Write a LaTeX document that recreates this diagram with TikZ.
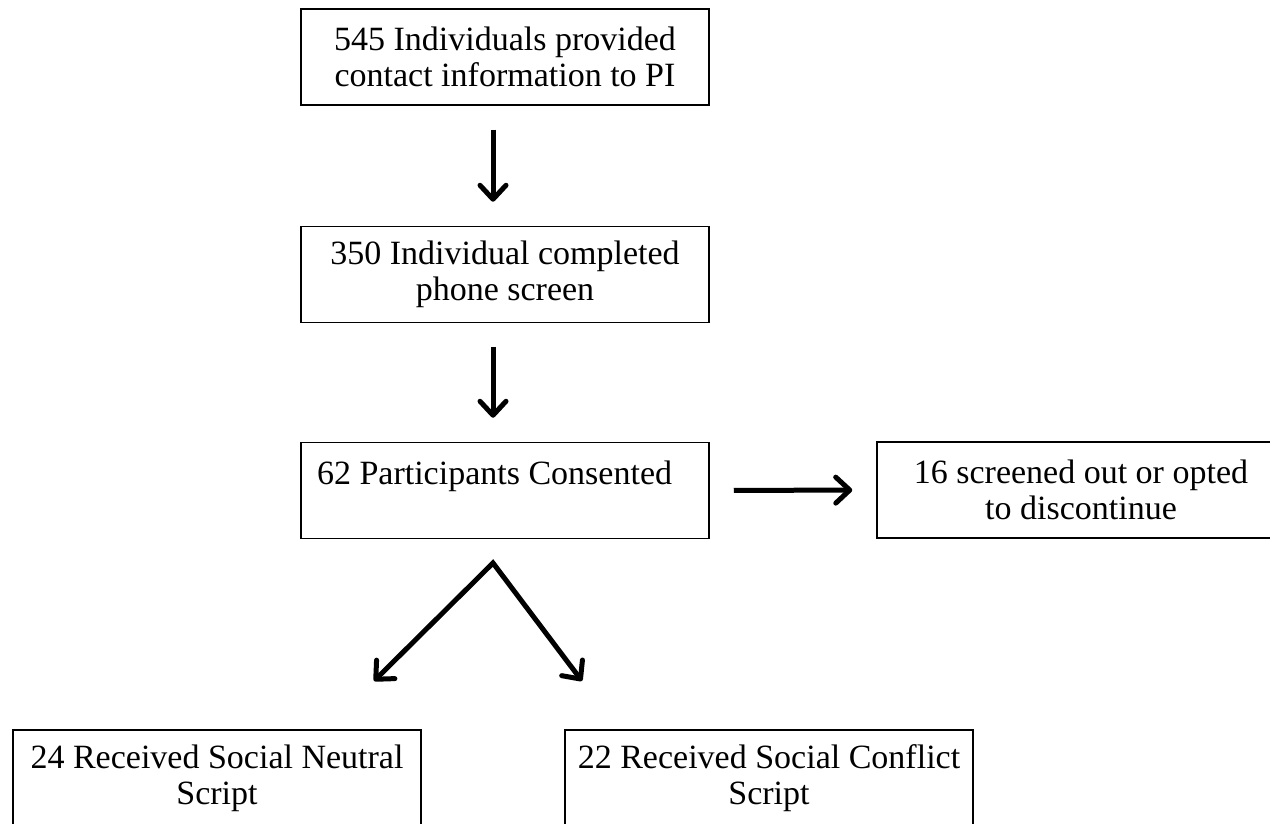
\documentclass[tikz,border=0pt]{standalone}
\usepackage{fontspec}
\setmainfont{Liberation Serif}
\usepackage{tikz}
\usetikzlibrary{arrows.meta,calc}
\tikzstyle{flowbox} = [
    draw=black,
    line width=0.75pt,
    rectangle,
    text width=198pt,
    inner xsep=3pt,
    minimum height=48pt,
    align=flush center,
    font=\fontsize{17}{18}\selectfont
    ]
\tikzstyle{flowarrow} = [
    line width=2.5pt,
    ->,
    shorten <=12pt,
    shorten >=12pt
    ]

\begin{document}
\begin{tikzpicture}[x=0.5pt,y=-0.5pt,>={Straight Barb[length=7pt,width=13pt,line width'=2.5pt,round]}]
\clip (0,0) rectangle (1270,824);
% boxes
\node [flowbox] (contact) at (505,57) {545 Individuals provided\\contact information to PI};
\node [flowbox] (phone) at (505,274.5) {350 Individual completed\\phone screen};
\node [flowbox, align=flush left] (consented) at (505,490.5) {\hspace*{5pt}62 Participants Consented\\~};
\node [flowbox] (dropped) at (1081,490) {16 screened out or opted\\to discontinue};
\node [flowbox] (neutral) at (217,778) {24 Received Social Neutral\\Script};
\node [flowbox] (conflict) at (769,778) {22 Received Social Conflict\\Script};
% split point and arrow ends
\coordinate (split) at (493,563);
\coordinate (toneutral) at (374,681);
\coordinate (toconflict) at (582,681);
% arrows
\draw [flowarrow] (contact.south -| split) -- (phone.north -| split);
\draw [flowarrow] (phone.south -| split) -- (consented.north -| split);
\draw [flowarrow] (consented.east) -- (dropped.west);
\draw [flowarrow, <->, shorten <=0pt, shorten >=0pt] (toneutral) -- (split) -- (toconflict);
\end{tikzpicture}
\end{document}
